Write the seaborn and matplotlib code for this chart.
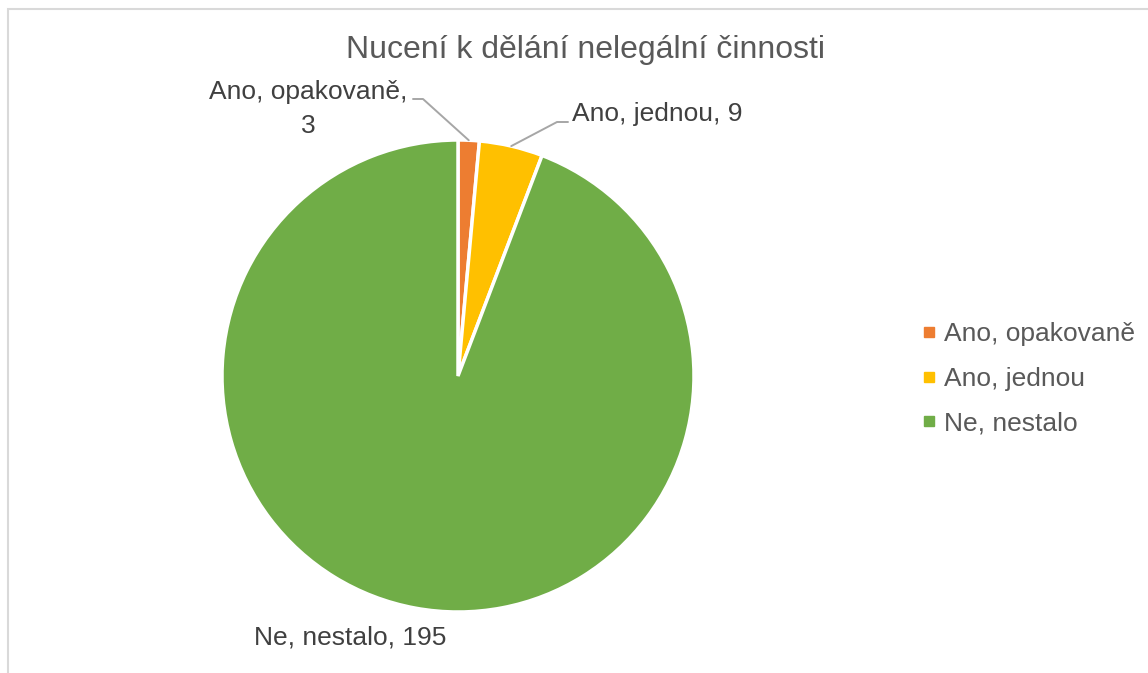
import matplotlib
matplotlib.use("Agg")
import matplotlib.pyplot as plt
import seaborn as sns
import numpy as np
from matplotlib.lines import Line2D
from matplotlib.patches import Rectangle

# data
categories = ["Ano, opakovaně", "Ano, jednou", "Ne, nestalo"]
counts = [3, 9, 195]
colors = ["#ED7D31", "#FFC000", "#70AD47"]
title = "Nucení k dělání nelegální činnosti"

sns.set_theme(style="white")
plt.rcParams["font.family"] = ["Liberation Sans", "DejaVu Sans"]

W, H = 1148, 673
fig = plt.figure(figsize=(W / 100, H / 100), dpi=100)

# pie centre / radius in pixels
cx, cy, r = 458, 376, 236
ax = fig.add_axes([(cx - r) / W, (H - cy - r) / H, 2 * r / W, 2 * r / H])

wedges, _ = ax.pie(counts, colors=colors, startangle=90, counterclock=False,
                   wedgeprops=dict(edgecolor="white", linewidth=2.5))
ax.set_xlim(-1, 1)
ax.set_ylim(-1, 1)
ax.axis("off")


def px(x, y):
    # figure pixel -> data coords of the pie axes
    return (x - cx) / r, (cy - y) / r


def mid_point(w):
    a = np.deg2rad((w.theta1 + w.theta2) / 2)
    return np.cos(a), np.sin(a)


label_col = "#404040"
line_col = "#A6A6A6"

# Ano, opakovane
ex, ey = mid_point(wedges[0])
p1, p2 = px(423, 99), px(413, 99)
ax.plot([ex, p1[0], p2[0]], [ey, p1[1], p2[1]], color=line_col, lw=1.4, clip_on=False)
tx, ty = px(308, 109)
ax.text(tx, ty, f"{categories[0]},\n{counts[0]}", ha="center", va="center",
        fontsize=19, color=label_col, linespacing=1.5)

# Ano, jednou
ex, ey = mid_point(wedges[1])
p1, p2 = px(557, 122), px(568, 122)
ax.plot([ex, p1[0], p2[0]], [ey, p1[1], p2[1]], color=line_col, lw=1.4, clip_on=False)
tx, ty = px(572, 114)
ax.text(tx, ty, f"{categories[1]}, {counts[1]}", ha="left", va="center",
        fontsize=19, color=label_col)

# Ne, nestalo
tx, ty = px(350, 638)
ax.text(tx, ty, f"{categories[2]}, {counts[2]}", ha="center", va="center",
        fontsize=19, color=label_col)

fig.text(585 / W, 1 - 50 / H, title, ha="center", va="center",
         fontsize=23, color="#595959")

handles = [Line2D([], [], marker="s", linestyle="", markersize=7,
                  markerfacecolor=c, markeredgecolor=c) for c in colors]
fig.legend(handles, categories, loc="center left",
           bbox_to_anchor=(908 / W, 1 - 379 / H), frameon=False, fontsize=19,
           labelcolor="#595959", handlelength=0.6, handletextpad=0.25,
           labelspacing=0.78, borderpad=0)

# chart border (only top/left visible in the crop)
fig.patches.append(Rectangle((8 / W, -0.1), 1.2, (H - 9) / H + 0.1,
                             transform=fig.transFigure, fill=False,
                             edgecolor="#D9D9D9", linewidth=1.5))

fig.savefig("out.png", dpi=100, facecolor="white")
